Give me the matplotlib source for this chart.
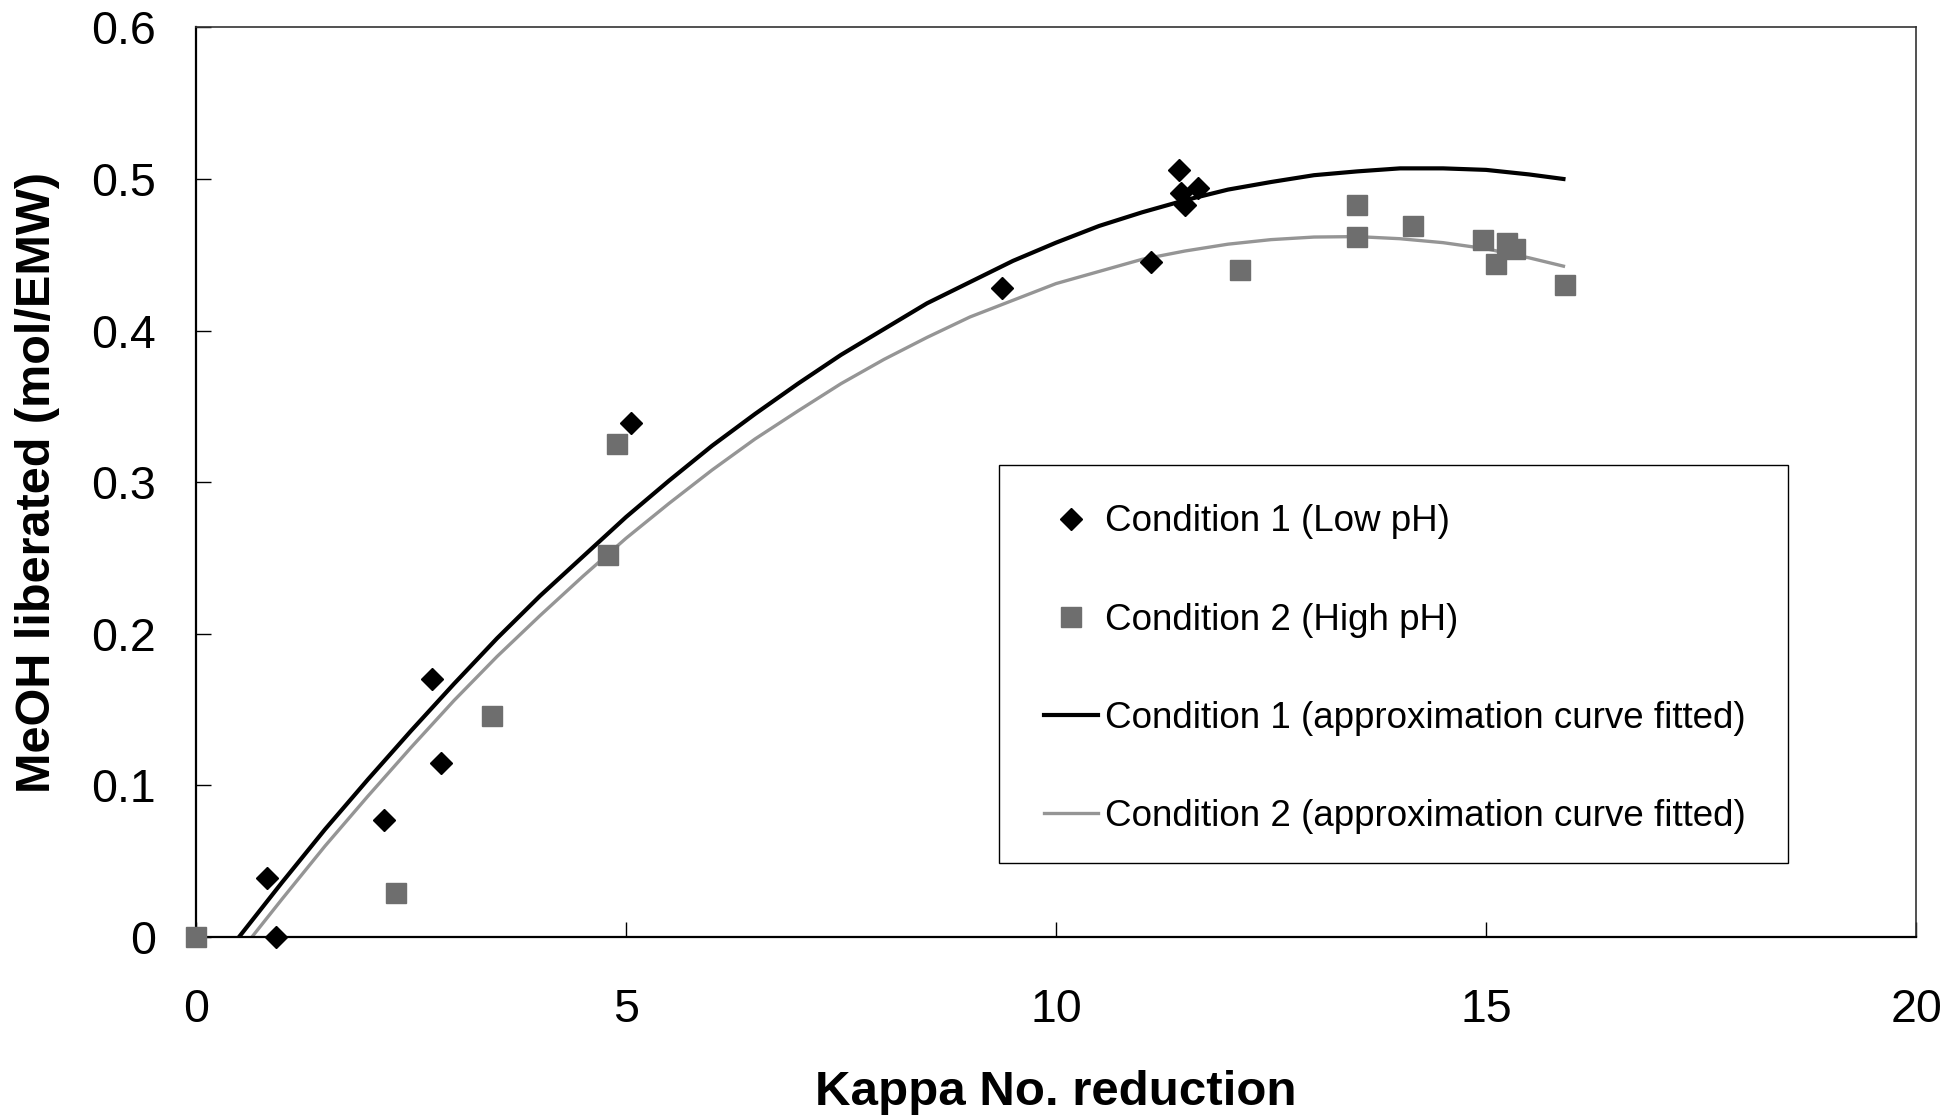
import matplotlib
matplotlib.use("Agg")
import matplotlib.pyplot as plt
from matplotlib.patches import Rectangle
import numpy as np

plt.rcParams['font.family'] = ['Liberation Sans', 'DejaVu Sans']

# measured points, condition 1 (low pH)
kappa_c1 = [0.83, 0.93, 2.19, 2.74, 2.85, 5.06, 9.37, 11.1, 11.43, 11.45, 11.5, 11.65]
meoh_c1 = [0.039, 0.0, 0.077, 0.170, 0.115, 0.339, 0.428, 0.445, 0.506, 0.491, 0.483, 0.494]

# measured points, condition 2 (high pH)
kappa_c2 = [0.0, 2.33, 3.44, 4.79, 4.9, 12.14, 13.5, 13.5, 14.15, 14.96, 15.12, 15.24, 15.34, 15.92]
meoh_c2 = [0.0, 0.029, 0.146, 0.252, 0.325, 0.440, 0.483, 0.4615, 0.469, 0.460, 0.444, 0.4575, 0.4535, 0.430]

# fitted curves, every 0.5 on x
fit_x1 = [0.5, 1, 1.5, 2, 2.5, 3, 3.5, 4, 4.5, 5, 5.5, 6, 6.5, 7, 7.5, 8, 8.5, 9, 9.5,
          10, 10.5, 11, 11.5, 12, 12.5, 13, 13.5, 14, 14.5, 15, 15.5, 15.9]
fit_y1 = [0.0, 0.036, 0.071, 0.104, 0.136, 0.167, 0.197, 0.225, 0.251, 0.277, 0.301,
          0.324, 0.345, 0.365, 0.384, 0.401, 0.418, 0.432, 0.446, 0.458, 0.469, 0.478,
          0.486, 0.493, 0.498, 0.5025, 0.505, 0.507, 0.507, 0.506, 0.503, 0.500]
fit_x2 = [0.65, 1, 1.5, 2, 2.5, 3, 3.5, 4, 4.5, 5, 5.5, 6, 6.5, 7, 7.5, 8, 8.5, 9, 9.5,
          10, 10.5, 11, 11.5, 12, 12.5, 13, 13.5, 14, 14.5, 15, 15.5, 15.9]
fit_y2 = [0.0, 0.025, 0.060, 0.093, 0.125, 0.156, 0.185, 0.212, 0.238, 0.263, 0.286,
          0.308, 0.3285, 0.347, 0.365, 0.381, 0.3955, 0.409, 0.420, 0.431, 0.439, 0.447,
          0.4525, 0.457, 0.460, 0.4617, 0.462, 0.4606, 0.458, 0.454, 0.448, 0.4425]

labels = ['Condition 1 (Low pH)', 'Condition 2 (High pH)',
          'Condition 1 (approximation curve fitted)',
          'Condition 2 (approximation curve fitted)']

fig = plt.figure(figsize=(19.5, 11.17), dpi=100)
ax = fig.add_axes([0.1005, 0.1611, 0.8821, 0.8144])

ax.plot(kappa_c1, meoh_c1, linestyle='none', marker='D', markersize=11,
        color='black', label=labels[0], zorder=3, clip_on=False)
ax.plot(kappa_c2, meoh_c2, linestyle='none', marker='s', markersize=14.5,
        color='#6e6e6e', label=labels[1], zorder=3, clip_on=False)
ax.plot(fit_x1, fit_y1, color='black', linewidth=3, label=labels[2], zorder=2)
ax.plot(fit_x2, fit_y2, color='#959595', linewidth=2.4, label=labels[3], zorder=2)

ax.set_xlim(0, 20)
ax.set_ylim(0, 0.6)
ax.set_xticks(np.arange(0, 21, 5))
ax.set_yticks(np.arange(0, 0.61, 0.1))
ax.set_yticklabels(['0', '0.1', '0.2', '0.3', '0.4', '0.5', '0.6'])
ax.tick_params(axis='both', direction='in', length=11, width=1, labelsize=33.5)
ax.tick_params(axis='y', pad=29)
ax.tick_params(axis='x', pad=37)

for side in ['left', 'bottom']:
    ax.spines[side].set_linewidth(1.6)
for side in ['top', 'right']:
    ax.spines[side].set_linewidth(1.2)
    ax.spines[side].set_color('#333333')

ax.set_xlabel('Kappa No. reduction', fontsize=35.5, fontweight='bold', labelpad=27)
ax.set_ylabel('MeOH liberated (mol/EMW)', fontsize=35, fontweight='bold', labelpad=22)

# legend box drawn separately so the inner padding can match
ax.add_patch(Rectangle((0.4666, 0.0812), 0.4592, 0.4376, transform=ax.transAxes,
                       facecolor='white', edgecolor='black', linewidth=1.0, zorder=4))
leg = ax.legend(loc='lower left', bbox_to_anchor=(0.4736, 0.0757),
                fontsize=26.5, frameon=False, borderpad=0.92, labelspacing=1.72,
                handlelength=1.45, handletextpad=0.2, borderaxespad=0)
leg.set_zorder(5)

fig.savefig('out.png', dpi=100)
